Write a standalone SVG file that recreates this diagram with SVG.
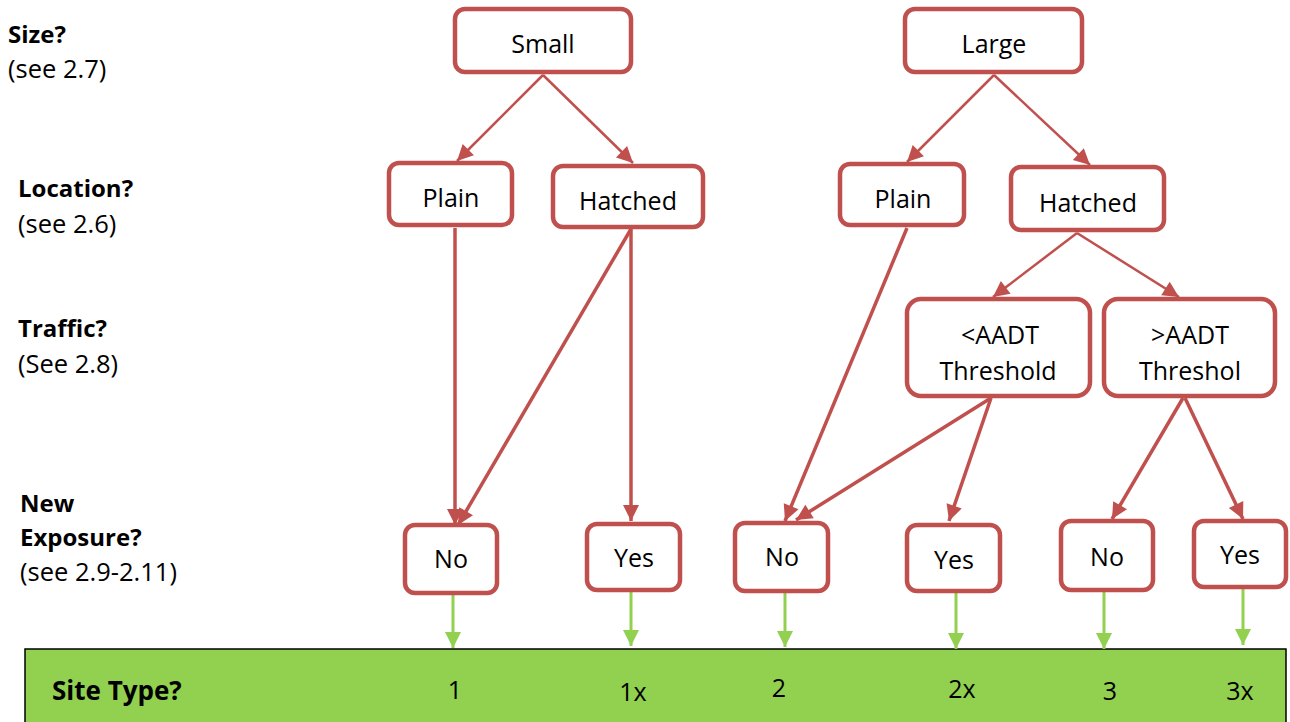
<svg xmlns="http://www.w3.org/2000/svg" width="1290" height="722" viewBox="0 0 1290 722">
<defs>
<style>
.box{fill:#fff;stroke:#C0504D;stroke-width:4.5}
.lbl{font-family:"Open Sans","Liberation Sans",sans-serif;font-size:25px;fill:#000;text-anchor:middle}
.side{font-family:"Open Sans","Liberation Sans",sans-serif;font-size:25.5px;fill:#000}
.b{font-weight:bold;font-size:24px}
.st{font-size:26px}
.red{stroke:#C0504D;fill:none}
.grn{stroke:#92D050;stroke-width:3;fill:none}
</style>
<marker id="ar" markerUnits="userSpaceOnUse" markerWidth="20" markerHeight="20" viewBox="0 0 20 20" refX="18" refY="10" orient="auto">
<path d="M2,2 L18,10 L2,18 Z" fill="#C0504D"/>
</marker>
<marker id="ag" markerUnits="userSpaceOnUse" markerWidth="20" markerHeight="20" viewBox="0 0 20 20" refX="18" refY="10" orient="auto">
<path d="M2,2 L18,10 L2,18 Z" fill="#92D050"/>
</marker>
</defs>
<rect width="1290" height="722" fill="#fff"/>
<g id="sitebar">
<rect x="25" y="649" width="1261" height="80" fill="#92D050" stroke="#000" stroke-width="1.5"/>
<text class="side b st" x="52" y="700">Site Type?</text>
<text class="lbl" x="455" y="699">1</text>
<text class="lbl" x="633" y="701">1x</text>
<text class="lbl" x="779" y="697">2</text>
<text class="lbl" x="962" y="698">2x</text>
<text class="lbl" x="1110" y="700">3</text>
<text class="lbl" x="1240" y="700">3x</text>
</g>
<g id="sidelabels">
<text class="side b" x="8" y="43">Size?</text>
<text class="side" x="8" y="78">(see 2.7)</text>
<text class="side b" x="18" y="197">Location?</text>
<text class="side" x="18" y="233">(see 2.6)</text>
<text class="side b" x="18" y="337">Traffic?</text>
<text class="side" x="18" y="373">(See 2.8)</text>
<text class="side b" x="20" y="512">New</text>
<text class="side b" x="20" y="546">Exposure?</text>
<text class="side" x="20" y="581">(see 2.9-2.11)</text>
</g>
<g id="connectors">
<line class="red" stroke-width="2.5" x1="543" y1="75" x2="457" y2="161" marker-end="url(#ar)"/>
<line class="red" stroke-width="2.5" x1="543" y1="75" x2="633" y2="163" marker-end="url(#ar)"/>
<line class="red" stroke-width="2.5" x1="994" y1="75" x2="907" y2="162" marker-end="url(#ar)"/>
<line class="red" stroke-width="2.5" x1="994" y1="75" x2="1090" y2="165" marker-end="url(#ar)"/>
<line class="red" stroke-width="2.5" x1="1077" y1="233" x2="993" y2="297" marker-end="url(#ar)"/>
<line class="red" stroke-width="2.5" x1="1077" y1="233" x2="1179" y2="297" marker-end="url(#ar)"/>
<line class="red" stroke-width="3.5" x1="455" y1="228" x2="455" y2="525" marker-end="url(#ar)"/>
<line class="red" stroke-width="3.5" x1="631" y1="229" x2="458" y2="525" marker-end="url(#ar)"/>
<line class="red" stroke-width="3.5" x1="631" y1="229" x2="631" y2="521" marker-end="url(#ar)"/>
<line class="red" stroke-width="3.5" x1="907" y1="228" x2="785" y2="521" marker-end="url(#ar)"/>
<line class="red" stroke-width="3.5" x1="991" y1="398" x2="796" y2="520" marker-end="url(#ar)"/>
<line class="red" stroke-width="3.5" x1="991" y1="398" x2="949" y2="521" marker-end="url(#ar)"/>
<line class="red" stroke-width="3.5" x1="1183" y1="398" x2="1112" y2="519" marker-end="url(#ar)"/>
<line class="red" stroke-width="3.5" x1="1185" y1="398" x2="1243" y2="519" marker-end="url(#ar)"/>
<line class="grn" x1="453" y1="595" x2="453" y2="648" marker-end="url(#ag)"/>
<line class="grn" x1="631" y1="592" x2="631" y2="646" marker-end="url(#ag)"/>
<line class="grn" x1="785" y1="593" x2="785" y2="647" marker-end="url(#ag)"/>
<line class="grn" x1="956" y1="593" x2="956" y2="649" marker-end="url(#ag)"/>
<line class="grn" x1="1104" y1="592" x2="1104" y2="649" marker-end="url(#ag)"/>
<line class="grn" x1="1243" y1="589" x2="1243" y2="645" marker-end="url(#ag)"/>
</g>
<g id="small"><rect class="box" x="455" y="9" width="176" height="63" rx="10"/><text class="lbl" x="543" y="53">Small</text></g>
<g id="large"><rect class="box" x="905" y="9" width="177" height="63" rx="10"/><text class="lbl" x="994" y="53">Large</text></g>
<g id="plain1"><rect class="box" x="389" y="163" width="123" height="62" rx="10"/><text class="lbl" x="451" y="207">Plain</text></g>
<g id="hatched1"><rect class="box" x="553" y="166" width="150" height="61" rx="10"/><text class="lbl" x="628" y="210">Hatched</text></g>
<g id="plain2"><rect class="box" x="840" y="164" width="124" height="61" rx="10"/><text class="lbl" x="903" y="208">Plain</text></g>
<g id="hatched2"><rect class="box" x="1011" y="167" width="153" height="63" rx="10"/><text class="lbl" x="1088" y="212">Hatched</text></g>
<g id="aadt_lt"><rect class="box" x="907" y="299" width="183" height="97" rx="14"/><text class="lbl" x="1000" y="344">&lt;AADT</text><text class="lbl" x="998" y="380">Threshold</text></g>
<g id="aadt_gt"><rect class="box" x="1104" y="299" width="171" height="97" rx="14"/><text class="lbl" x="1190" y="344">&gt;AADT</text><text class="lbl" x="1190" y="380">Threshol</text></g>
<g id="no1"><rect class="box" x="405" y="525" width="92" height="68" rx="10"/><text class="lbl" x="451" y="568">No</text></g>
<g id="yes1"><rect class="box" x="587" y="524" width="93" height="66" rx="10"/><text class="lbl" x="634" y="567">Yes</text></g>
<g id="no2"><rect class="box" x="735" y="523" width="93" height="68" rx="10"/><text class="lbl" x="782" y="566">No</text></g>
<g id="yes2"><rect class="box" x="907" y="525" width="93" height="66" rx="10"/><text class="lbl" x="954" y="569">Yes</text></g>
<g id="no3"><rect class="box" x="1061" y="521" width="92" height="69" rx="10"/><text class="lbl" x="1107" y="566">No</text></g>
<g id="yes3"><rect class="box" x="1194" y="521" width="92" height="66" rx="10"/><text class="lbl" x="1240" y="564">Yes</text></g>
</svg>
